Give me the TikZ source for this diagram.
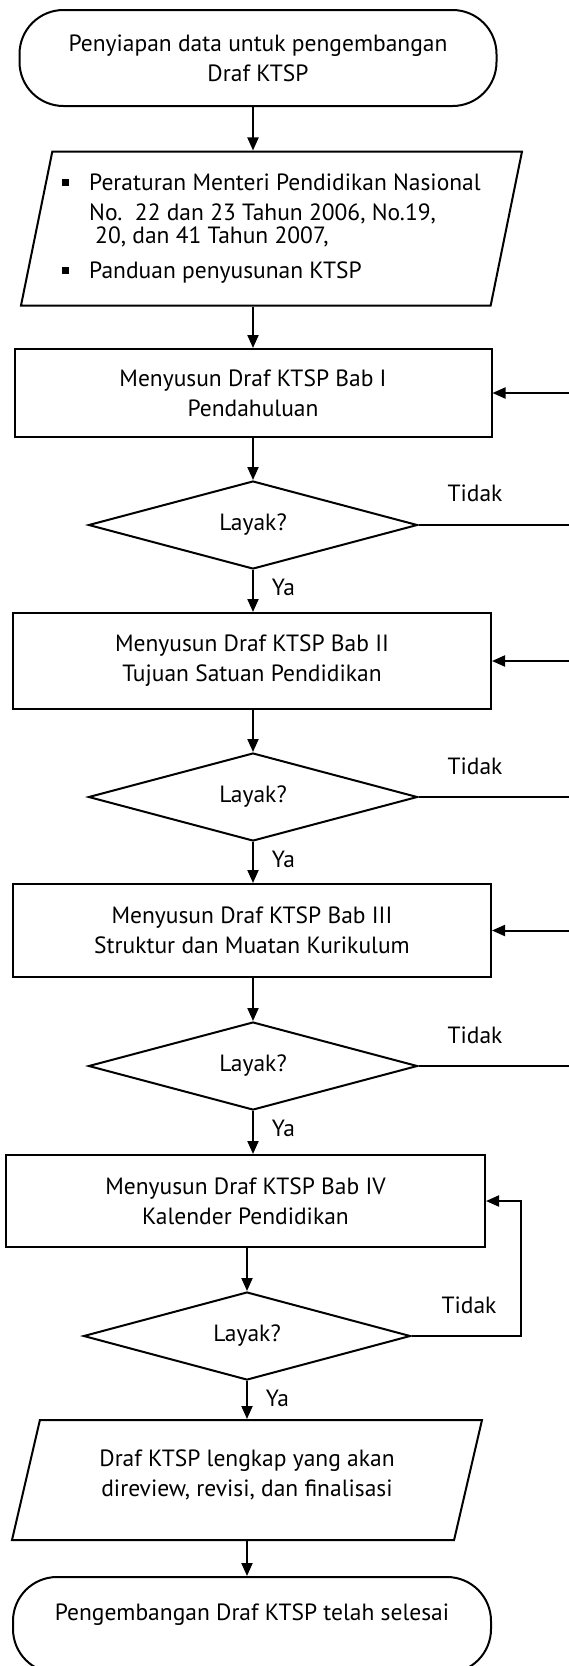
\documentclass[tikz,border=0pt]{standalone}
\usepackage{fontspec}
\setmainfont{PT Sans}
\usetikzlibrary{arrows.meta}
\usetikzlibrary{shapes.geometric}
\usetikzlibrary{calc}
\newcommand{\sqbul}{\makebox[27pt][l]{\rule[5pt]{7pt}{7pt}}}
\tikzset{
    >={Triangle[length=13pt,width=11pt]},
    terminal/.style={draw=black, rectangle, rounded corners=44pt, align=center, inner sep=0pt},
    process/.style={draw=black, rectangle, align=center, inner sep=0pt},
    decision/.style={draw=black, diamond, aspect=3.7, inner sep=1pt,
        minimum width=329pt, minimum height=88pt},
    io/.style={draw=black, trapezium, trapezium stretches body=true, inner xsep=0pt},
    flow/.style={draw=black, ->},
    lbl/.style={inner sep=0pt},
}

\begin{document}
\begin{tikzpicture}[x=1pt, y=1pt, line width=2pt, font=\fontsize{23.5pt}{30pt}\selectfont]
\useasboundingbox (0,0) rectangle (569,-1666);
\clip (0,0) rectangle (569,-1666);
% \draw[step=10pt, very thin, gray] (0,0) grid (569,-1666);
\node[terminal, minimum width=477pt, minimum height=96pt] (start) at (258,-58)
    {Penyiapan data untuk pengembangan\\Draf KTSP};
\node[io, inner ysep=21pt, minimum width=501pt, minimum height=153pt, trapezium left angle=78.5,
    trapezium right angle=101.5, align=left] (in1) at (271.5,-228.5)
    {\rule{0pt}{18pt}\sqbul Peraturan Menteri Pendidikan Nasional\\
     \hspace*{27pt}No.\ \ 22 dan 23 Tahun 2006, No.19,\\[-7pt]
     \hspace*{33pt}20, dan 41 Tahun 2007,\\[5pt]
     \sqbul Panduan penyusunan KTSP\rule[-6pt]{0pt}{6pt}};
\node[process, minimum width=477pt, minimum height=88pt] (box1) at (253,-393)
    {Menyusun Draf KTSP Bab I\\Pendahuluan};
\node[decision] (d1) at (253,-525) {Layak?};
\node[process, minimum width=478pt, minimum height=96pt] (box2) at (252,-661)
    {Menyusun Draf KTSP Bab II\\Tujuan Satuan Pendidikan};
\node[decision] (d2) at (253,-797) {Layak?};
\node[process, minimum width=478pt, minimum height=93pt] (box3) at (252,-930.5)
    {Menyusun Draf KTSP Bab III\\Struktur dan Muatan Kurikulum};
\node[decision] (d3) at (253,-1066) {Layak?};
\node[process, minimum width=479pt, minimum height=92pt] (box4) at (245.5,-1201)
    {Menyusun Draf KTSP Bab IV\\Kalender Pendidikan};
\node[decision, minimum width=327pt] (d4) at (247,-1336) {Layak?};
\node[io, inner ysep=28pt, minimum width=470pt, minimum height=120pt, trapezium left angle=76.9,
    trapezium right angle=103.1, align=center] (out1) at (247,-1480)
    {\rule{0pt}{18pt}Draf KTSP lengkap yang akan\\direview, revisi, dan finalisasi\rule[-16pt]{0pt}{16pt}};
\node[terminal, minimum width=478pt, minimum height=96pt, text height=17pt,
    text depth=26pt] (stop) at (252,-1625) {Pengembangan Draf KTSP telah selesai};
% labels
\node[lbl] (t1) at (475,-493) {Tidak};
\node[lbl] (t2) at (475,-766) {Tidak};
\node[lbl] (t3) at (475,-1035) {Tidak};
\node[lbl] (t4) at (469,-1305) {Tidak};
\node[lbl] (y1) at (283.5,-587) {Ya};
\node[lbl] (y2) at (283.5,-859) {Ya};
\node[lbl] (y3) at (283.5,-1128) {Ya};
\node[lbl] (y4) at (277.5,-1398) {Ya};
% main flow
\draw[flow] (start.south -| box1) -- (in1.north -| box1);
\draw[flow] (in1.south -| box1) -- (box1.north);
\draw[flow] (box1.south -| d1) -- (d1.north);
\draw[flow] (d1.south) -- (d1.south |- box2.north);
\draw[flow] (box2.south -| d2) -- (d2.north);
\draw[flow] (d2.south) -- (d2.south |- box3.north);
\draw[flow] (box3.south -| d3) -- (d3.north);
\draw[flow] (d3.south) -- (d3.south |- box4.north);
\draw[flow] (box4.south -| d4) -- (d4.north);
\draw[flow] (d4.south) -- (d4.south |- out1.north);
\draw[flow] (out1.south -| d4) -- (stop.north -| d4);
% back loops
\draw[flow] (d1.east) -- ++(175,0) |- (box1.east);
\draw[flow] (d2.east) -- ++(175,0) |- (box2.east);
\draw[flow] (d3.east) -- ++(175,0) |- (box3.east);
\draw[flow] (d4.east) -- ++(109,0) |- (box4.east);
\end{tikzpicture}
\end{document}
